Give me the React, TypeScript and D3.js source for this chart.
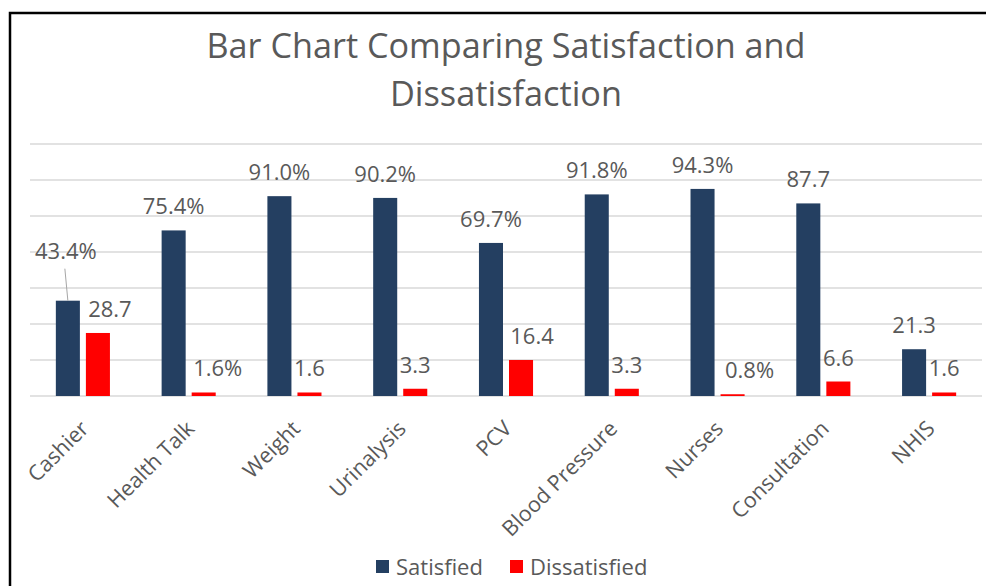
import React, {useEffect, useRef} from 'react';
import * as d3 from "d3";

// survey services, 122 respondents
const categories = ["Cashier", "Health Talk", "Weight", "Urinalysis", "PCV", "Blood Pressure", "Nurses", "Consultation", "NHIS"];
const satisfied = [43.4, 75.4, 91.0, 90.2, 69.7, 91.8, 94.3, 87.7, 21.3];
const dissatisfied = [28.7, 1.6, 1.6, 3.3, 16.4, 3.3, 0.8, 6.6, 1.6];
// labels exactly as printed on the chart (some have %, some not)
const satisfiedLabels = ["43.4%", "75.4%", "91.0%", "90.2%", "69.7%", "91.8%", "94.3%", "87.7", "21.3"];
const dissatisfiedLabels = ["28.7", "1.6%", "1.6", "3.3", "16.4", "3.3", "0.8%", "6.6", "1.6"];
const seriesNames = ["Satisfied", "Dissatisfied"];
const respondents = 122;
const gridCounts = [0, 20, 40, 60, 80, 100, 120, 140];

const colors = ["#243f61", "#ff0000"];
const textColor = "#595959";
const font = "'Open Sans', sans-serif";

// labels that were dragged by hand in the original
const labelNudge: {[k: string]: [number, number]} = {
    "0-0": [-2, -26],
    "1-0": [12, 0],
    "1-1": [14, 0],
    "1-4": [11, 0],
    "1-6": [17, 0],
};

const App = () => {
    const ref = useRef<SVGSVGElement>(null);

    useEffect(() => {
        const width = 986, height = 586;
        const plot = {left: 30, right: 982, top: 144, bottom: 396};

        const svg = d3.select(ref.current);
        svg.selectAll("*").remove();

        svg.append("rect")
            .attr("x", 0).attr("y", 0)
            .attr("width", width).attr("height", height)
            .attr("fill", "white");

        // chart border (cut off on the right and bottom)
        svg.append("rect")
            .attr("x", 10).attr("y", 13)
            .attr("width", 1000).attr("height", 600)
            .attr("fill", "none")
            .attr("stroke", "black")
            .attr("stroke-width", 2.5);

        // title
        const title = svg.append("text")
            .attr("text-anchor", "middle")
            .attr("fill", textColor)
            .style("font-family", font)
            .style("font-size", "35px");
        title.append("tspan").attr("x", 506).attr("y", 58)
            .attr("textLength", 599).attr("lengthAdjust", "spacingAndGlyphs")
            .text("Bar Chart Comparing Satisfaction and");
        title.append("tspan").attr("x", 506).attr("y", 106)
            .attr("textLength", 232).attr("lengthAdjust", "spacingAndGlyphs")
            .text("Dissatisfaction");

        const x = d3.scaleBand<string>()
            .domain(categories)
            .range([plot.left, plot.right]);

        const xSub = d3.scaleBand<number>()
            .domain([0, 1])
            .range([0, x.bandwidth()])
            .paddingInner(0.2)
            .paddingOuter(0.86);

        const y = d3.scaleLinear()
            .domain([0, 140 * 100 / respondents])
            .range([plot.bottom, plot.top]);

        // gridlines
        svg.append("g")
            .selectAll("line")
            .data(gridCounts)
            .join("line")
            .attr("x1", plot.left)
            .attr("x2", plot.right)
            .attr("y1", d => y(d * 100 / respondents))
            .attr("y2", d => y(d * 100 / respondents))
            .attr("stroke", "#d9d9d9")
            .attr("stroke-width", 1.5);

        const series = [satisfied, dissatisfied];
        const labels = [satisfiedLabels, dissatisfiedLabels];

        series.forEach((values, s) => {
            svg.append("g")
                .selectAll("rect")
                .data(values)
                .join("rect")
                .attr("x", (d, i) => x(categories[i])! + xSub(s)!)
                .attr("y", d => y(d))
                .attr("width", xSub.bandwidth())
                .attr("height", d => y(0) - y(d))
                .attr("fill", colors[s]);
        });

        // data labels
        series.forEach((values, s) => {
            values.forEach((v, i) => {
                const cx = x(categories[i])! + xSub(s)! + xSub.bandwidth() / 2;
                const nudge = labelNudge[s + "-" + i] || [0, 0];
                const lx = cx + nudge[0];
                const ly = y(v) - 16 + nudge[1];

                // leader line when the label is pulled far from its bar
                if (Math.abs(nudge[1]) > 10) {
                    svg.append("line")
                        .attr("x1", lx - 1).attr("y1", ly + 10)
                        .attr("x2", cx).attr("y2", y(v))
                        .attr("stroke", "#a6a6a6")
                        .attr("stroke-width", 1);
                }

                svg.append("text")
                    .attr("x", lx)
                    .attr("y", ly)
                    .attr("text-anchor", "middle")
                    .attr("fill", textColor)
                    .style("font-family", font)
                    .style("font-size", "22px")
                    .text(labels[s][i]);
            });
        });

        // category labels, rotated
        svg.append("g")
            .selectAll("text")
            .data(categories)
            .join("text")
            .attr("transform", d => {
                const cx = x(d)! + x.bandwidth() / 2;
                return "translate(" + (cx + 7) + "," + 430 + ") rotate(-45)";
            })
            .attr("text-anchor", "end")
            .attr("fill", textColor)
            .style("font-family", font)
            .style("font-size", "21.5px")
            .text(d => d);

        // legend
        const legendX = [376, 510];
        const legend = svg.append("g")
            .selectAll("g")
            .data(seriesNames)
            .join("g")
            .attr("transform", (d, i) => "translate(" + legendX[i] + ",560)");
        legend.append("rect")
            .attr("width", 13).attr("height", 13)
            .attr("fill", (d, i) => colors[i]);
        legend.append("text")
            .attr("x", 20).attr("y", 14.5)
            .attr("fill", textColor)
            .style("font-family", font)
            .style("font-size", "22px")
            .text(d => d);
    }, []);

    return (
        <svg ref={ref} width={986} height={586}
             style={{position: "absolute", left: 0, top: 0}}/>
    );
};

export default App;
